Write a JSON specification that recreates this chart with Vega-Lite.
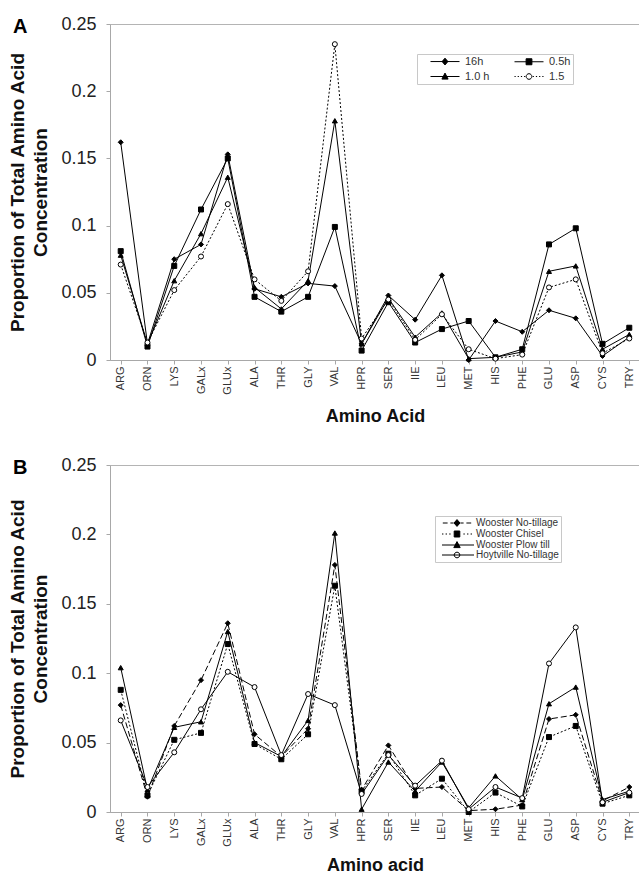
{
  "$schema": "https://vega.github.io/schema/vega-lite/v6.json",
  "padding": {"left": 8, "top": 14, "right": 0, "bottom": 0},
  "spacing": 29,
  "config": {
    "font": "Liberation Sans",
    "view": {"stroke": "#b4b4b4", "strokeWidth": 1},
    "axis": {"grid": false, "domainColor": "#a8a8a8", "tickColor": "#a8a8a8", "labelColor": "#222", "titleColor": "#111", "labelFont": "Liberation Sans", "titleFont": "Liberation Sans"},
    "legend": {"labelFont": "Liberation Sans"}
  },
  "datasets": {
    "A": [
      {"s":"16h","aa":"ARG","v":0.162},{"s":"16h","aa":"ORN","v":0.012},{"s":"16h","aa":"LYS","v":0.075},{"s":"16h","aa":"GALx","v":0.086},{"s":"16h","aa":"GLUx","v":0.153},{"s":"16h","aa":"ALA","v":0.053},{"s":"16h","aa":"THR","v":0.047},{"s":"16h","aa":"GLY","v":0.057},{"s":"16h","aa":"VAL","v":0.055},{"s":"16h","aa":"HPR","v":0.012},{"s":"16h","aa":"SER","v":0.048},{"s":"16h","aa":"IIE","v":0.030},{"s":"16h","aa":"LEU","v":0.063},{"s":"16h","aa":"MET","v":0.000},{"s":"16h","aa":"HIS","v":0.029},{"s":"16h","aa":"PHE","v":0.021},{"s":"16h","aa":"GLU","v":0.037},{"s":"16h","aa":"ASP","v":0.031},{"s":"16h","aa":"CYS","v":0.003},{"s":"16h","aa":"TRY","v":0.017},
      {"s":"0.5h","aa":"ARG","v":0.081},{"s":"0.5h","aa":"ORN","v":0.010},{"s":"0.5h","aa":"LYS","v":0.070},{"s":"0.5h","aa":"GALx","v":0.112},{"s":"0.5h","aa":"GLUx","v":0.150},{"s":"0.5h","aa":"ALA","v":0.047},{"s":"0.5h","aa":"THR","v":0.036},{"s":"0.5h","aa":"GLY","v":0.047},{"s":"0.5h","aa":"VAL","v":0.099},{"s":"0.5h","aa":"HPR","v":0.007},{"s":"0.5h","aa":"SER","v":0.043},{"s":"0.5h","aa":"IIE","v":0.013},{"s":"0.5h","aa":"LEU","v":0.023},{"s":"0.5h","aa":"MET","v":0.029},{"s":"0.5h","aa":"HIS","v":0.002},{"s":"0.5h","aa":"PHE","v":0.008},{"s":"0.5h","aa":"GLU","v":0.086},{"s":"0.5h","aa":"ASP","v":0.098},{"s":"0.5h","aa":"CYS","v":0.012},{"s":"0.5h","aa":"TRY","v":0.024},
      {"s":"1.0 h","aa":"ARG","v":0.078},{"s":"1.0 h","aa":"ORN","v":0.012},{"s":"1.0 h","aa":"LYS","v":0.059},{"s":"1.0 h","aa":"GALx","v":0.094},{"s":"1.0 h","aa":"GLUx","v":0.136},{"s":"1.0 h","aa":"ALA","v":0.054},{"s":"1.0 h","aa":"THR","v":0.038},{"s":"1.0 h","aa":"GLY","v":0.059},{"s":"1.0 h","aa":"VAL","v":0.178},{"s":"1.0 h","aa":"HPR","v":0.012},{"s":"1.0 h","aa":"SER","v":0.046},{"s":"1.0 h","aa":"IIE","v":0.017},{"s":"1.0 h","aa":"LEU","v":0.035},{"s":"1.0 h","aa":"MET","v":0.001},{"s":"1.0 h","aa":"HIS","v":0.002},{"s":"1.0 h","aa":"PHE","v":0.006},{"s":"1.0 h","aa":"GLU","v":0.066},{"s":"1.0 h","aa":"ASP","v":0.070},{"s":"1.0 h","aa":"CYS","v":0.008},{"s":"1.0 h","aa":"TRY","v":0.019},
      {"s":"1.5","aa":"ARG","v":0.071},{"s":"1.5","aa":"ORN","v":0.013},{"s":"1.5","aa":"LYS","v":0.052},{"s":"1.5","aa":"GALx","v":0.077},{"s":"1.5","aa":"GLUx","v":0.116},{"s":"1.5","aa":"ALA","v":0.060},{"s":"1.5","aa":"THR","v":0.044},{"s":"1.5","aa":"GLY","v":0.066},{"s":"1.5","aa":"VAL","v":0.235},{"s":"1.5","aa":"HPR","v":0.016},{"s":"1.5","aa":"SER","v":0.045},{"s":"1.5","aa":"IIE","v":0.015},{"s":"1.5","aa":"LEU","v":0.034},{"s":"1.5","aa":"MET","v":0.008},{"s":"1.5","aa":"HIS","v":0.001},{"s":"1.5","aa":"PHE","v":0.004},{"s":"1.5","aa":"GLU","v":0.054},{"s":"1.5","aa":"ASP","v":0.060},{"s":"1.5","aa":"CYS","v":0.005},{"s":"1.5","aa":"TRY","v":0.016}
    ],
    "B": [
      {"s":"Wooster No-tillage","aa":"ARG","v":0.077},{"s":"Wooster No-tillage","aa":"ORN","v":0.011},{"s":"Wooster No-tillage","aa":"LYS","v":0.062},{"s":"Wooster No-tillage","aa":"GALx","v":0.095},{"s":"Wooster No-tillage","aa":"GLUx","v":0.136},{"s":"Wooster No-tillage","aa":"ALA","v":0.056},{"s":"Wooster No-tillage","aa":"THR","v":0.040},{"s":"Wooster No-tillage","aa":"GLY","v":0.060},{"s":"Wooster No-tillage","aa":"VAL","v":0.178},{"s":"Wooster No-tillage","aa":"HPR","v":0.016},{"s":"Wooster No-tillage","aa":"SER","v":0.048},{"s":"Wooster No-tillage","aa":"IIE","v":0.017},{"s":"Wooster No-tillage","aa":"LEU","v":0.018},{"s":"Wooster No-tillage","aa":"MET","v":0.001},{"s":"Wooster No-tillage","aa":"HIS","v":0.002},{"s":"Wooster No-tillage","aa":"PHE","v":0.005},{"s":"Wooster No-tillage","aa":"GLU","v":0.067},{"s":"Wooster No-tillage","aa":"ASP","v":0.070},{"s":"Wooster No-tillage","aa":"CYS","v":0.008},{"s":"Wooster No-tillage","aa":"TRY","v":0.018},
      {"s":"Wooster Chisel","aa":"ARG","v":0.088},{"s":"Wooster Chisel","aa":"ORN","v":0.012},{"s":"Wooster Chisel","aa":"LYS","v":0.052},{"s":"Wooster Chisel","aa":"GALx","v":0.057},{"s":"Wooster Chisel","aa":"GLUx","v":0.121},{"s":"Wooster Chisel","aa":"ALA","v":0.049},{"s":"Wooster Chisel","aa":"THR","v":0.038},{"s":"Wooster Chisel","aa":"GLY","v":0.056},{"s":"Wooster Chisel","aa":"VAL","v":0.163},{"s":"Wooster Chisel","aa":"HPR","v":0.015},{"s":"Wooster Chisel","aa":"SER","v":0.042},{"s":"Wooster Chisel","aa":"IIE","v":0.012},{"s":"Wooster Chisel","aa":"LEU","v":0.024},{"s":"Wooster Chisel","aa":"MET","v":0.000},{"s":"Wooster Chisel","aa":"HIS","v":0.014},{"s":"Wooster Chisel","aa":"PHE","v":0.004},{"s":"Wooster Chisel","aa":"GLU","v":0.054},{"s":"Wooster Chisel","aa":"ASP","v":0.062},{"s":"Wooster Chisel","aa":"CYS","v":0.006},{"s":"Wooster Chisel","aa":"TRY","v":0.012},
      {"s":"Wooster Plow till","aa":"ARG","v":0.104},{"s":"Wooster Plow till","aa":"ORN","v":0.016},{"s":"Wooster Plow till","aa":"LYS","v":0.061},{"s":"Wooster Plow till","aa":"GALx","v":0.065},{"s":"Wooster Plow till","aa":"GLUx","v":0.130},{"s":"Wooster Plow till","aa":"ALA","v":0.050},{"s":"Wooster Plow till","aa":"THR","v":0.040},{"s":"Wooster Plow till","aa":"GLY","v":0.066},{"s":"Wooster Plow till","aa":"VAL","v":0.201},{"s":"Wooster Plow till","aa":"HPR","v":0.002},{"s":"Wooster Plow till","aa":"SER","v":0.036},{"s":"Wooster Plow till","aa":"IIE","v":0.015},{"s":"Wooster Plow till","aa":"LEU","v":0.036},{"s":"Wooster Plow till","aa":"MET","v":0.003},{"s":"Wooster Plow till","aa":"HIS","v":0.026},{"s":"Wooster Plow till","aa":"PHE","v":0.009},{"s":"Wooster Plow till","aa":"GLU","v":0.078},{"s":"Wooster Plow till","aa":"ASP","v":0.090},{"s":"Wooster Plow till","aa":"CYS","v":0.009},{"s":"Wooster Plow till","aa":"TRY","v":0.015},
      {"s":"Hoytville No-tillage","aa":"ARG","v":0.066},{"s":"Hoytville No-tillage","aa":"ORN","v":0.018},{"s":"Hoytville No-tillage","aa":"LYS","v":0.043},{"s":"Hoytville No-tillage","aa":"GALx","v":0.074},{"s":"Hoytville No-tillage","aa":"GLUx","v":0.101},{"s":"Hoytville No-tillage","aa":"ALA","v":0.090},{"s":"Hoytville No-tillage","aa":"THR","v":0.041},{"s":"Hoytville No-tillage","aa":"GLY","v":0.085},{"s":"Hoytville No-tillage","aa":"VAL","v":0.077},{"s":"Hoytville No-tillage","aa":"HPR","v":0.013},{"s":"Hoytville No-tillage","aa":"SER","v":0.041},{"s":"Hoytville No-tillage","aa":"IIE","v":0.019},{"s":"Hoytville No-tillage","aa":"LEU","v":0.037},{"s":"Hoytville No-tillage","aa":"MET","v":0.002},{"s":"Hoytville No-tillage","aa":"HIS","v":0.018},{"s":"Hoytville No-tillage","aa":"PHE","v":0.010},{"s":"Hoytville No-tillage","aa":"GLU","v":0.107},{"s":"Hoytville No-tillage","aa":"ASP","v":0.133},{"s":"Hoytville No-tillage","aa":"CYS","v":0.007},{"s":"Hoytville No-tillage","aa":"TRY","v":0.014}
    ]
  },
  "vconcat": [
    {
      "data": {"name": "A"},
      "width": 530,
      "height": 336,
      "title": {"text": "A", "anchor": "start", "frame": "group", "orient": "top", "fontSize": 20, "fontWeight": "bold", "font": "Liberation Sans", "color": "#000", "dx": -97, "baseline": "top", "offset": -22},
      "encoding": {
        "x": {"field": "aa", "type": "ordinal", "scale": {"type": "point", "padding": 0.4, "domain": ["ARG","ORN","LYS","GALx","GLUx","ALA","THR","GLY","VAL","HPR","SER","IIE","LEU","MET","HIS","PHE","GLU","ASP","CYS","TRY"]},
              "axis": {"title": "Amino Acid", "labelAngle": -90, "labelFontSize": 11, "labelPadding": 2, "tickSize": 4, "titleFontSize": 18, "titleFontWeight": "bold", "titlePadding": 13, "labelColor": "#333"}},
        "y": {"field": "v", "type": "quantitative", "scale": {"domain": [0, 0.25], "nice": false},
              "axis": {"title": ["Proportion of Total Amino Acid", "Concentration"], "values": [0, 0.05, 0.1, 0.15, 0.2, 0.25], "format": "~g", "labelFontSize": 18, "labelPadding": 10, "tickSize": 4, "titleFontSize": 19, "titleFontWeight": "bold", "titleLineHeight": 23, "titlePadding": 10}}
      },
      "layer": [
        {"transform": [{"filter": "datum.s == '16h'"}], "mark": {"type": "line", "color": "black", "strokeWidth": 1}, "encoding": {"order": {"value": null}}},
        {"transform": [{"filter": "datum.s == '0.5h'"}], "mark": {"type": "line", "color": "black", "strokeWidth": 1}, "encoding": {"order": {"value": null}}},
        {"transform": [{"filter": "datum.s == '1.0 h'"}], "mark": {"type": "line", "color": "black", "strokeWidth": 1}, "encoding": {"order": {"value": null}}},
        {"transform": [{"filter": "datum.s == '1.5'"}], "mark": {"type": "line", "color": "black", "strokeWidth": 1, "strokeDash": [2, 2]}, "encoding": {"order": {"value": null}}},
        {"mark": {"type": "point", "filled": true, "stroke": "black", "strokeWidth": 1, "size": 25, "opacity": 1},
         "encoding": {"shape": {"field": "s", "type": "nominal", "scale": {"domain": ["16h","0.5h","1.0 h","1.5"], "range": ["diamond","square","triangle-up","circle"]}, "legend": null},
                      "color": {"field": "s", "type": "nominal", "scale": {"domain": ["16h","0.5h","1.0 h","1.5"], "range": ["black","black","black","white"]}, "legend": null}}},
        {"transform": [{"filter": "false"}],
         "mark": {"type": "point", "filled": true, "stroke": "black", "strokeWidth": 1, "size": 64, "opacity": 1},
         "encoding": {
           "shape": {"field": "s", "type": "nominal", "scale": {"domain": ["16h","0.5h","1.0 h","1.5"], "range": [
              "M1.5,0H8.75M5.125,-0.85L5.85,0L5.125,0.85L4.4,0Z",
              "M1.5,0H8.75M4.4,-0.75H5.85V0.75H4.4Z",
              "M1.5,0H8.75M5.125,-0.85L5.9,0.65H4.35Z",
              "M1.5,0H1.8M2.3,0H2.6M3.1,0H3.4M3.9,0H4.2M6.05,0H6.35M6.85,0H7.15M7.65,0H7.95M8.45,0H8.75M4.425,0A0.7,0.7,0,1,0,5.825,0A0.7,0.7,0,1,0,4.425,0Z"]},
              "legend": {"orient": "none", "legendX": 307, "legendY": 30, "title": null, "columns": 2, "direction": "horizontal", "columnPadding": 13, "rowPadding": 3, "padding": 2, "labelFontSize": 11, "labelOffset": 35, "labelColor": "#333", "symbolSize": 64, "symbolStrokeWidth": 1, "symbolStrokeColor": "black", "strokeColor": "#c8c8c8", "fillColor": "white"}},
           "color": {"field": "s", "type": "nominal", "scale": {"domain": ["16h","0.5h","1.0 h","1.5"], "range": ["black","black","black","white"]},
              "legend": {"orient": "none", "legendX": 307, "legendY": 30, "title": null, "columns": 2, "direction": "horizontal", "columnPadding": 13, "rowPadding": 3, "padding": 2, "labelFontSize": 11, "labelOffset": 35, "labelColor": "#333", "symbolSize": 64, "symbolStrokeWidth": 1, "symbolStrokeColor": "black", "strokeColor": "#c8c8c8", "fillColor": "white"}}
         }}
      ],
      "resolve": {"scale": {"shape": "independent", "color": "independent"}}
    },
    {
      "data": {"name": "B"},
      "width": 530,
      "height": 347,
      "title": {"text": "B", "anchor": "start", "frame": "group", "orient": "top", "fontSize": 20, "fontWeight": "bold", "font": "Liberation Sans", "color": "#000", "dx": -97, "baseline": "top", "offset": -22},
      "encoding": {
        "x": {"field": "aa", "type": "ordinal", "scale": {"type": "point", "padding": 0.4, "domain": ["ARG","ORN","LYS","GALx","GLUx","ALA","THR","GLY","VAL","HPR","SER","IIE","LEU","MET","HIS","PHE","GLU","ASP","CYS","TRY"]},
              "axis": {"title": "Amino acid", "labelAngle": -90, "labelFontSize": 11, "labelPadding": 2, "tickSize": 4, "titleFontSize": 18, "titleFontWeight": "bold", "titlePadding": 10, "labelColor": "#333"}},
        "y": {"field": "v", "type": "quantitative", "scale": {"domain": [0, 0.25], "nice": false},
              "axis": {"title": ["Proportion of Total Amino Acid", "Concentration"], "values": [0, 0.05, 0.1, 0.15, 0.2, 0.25], "format": "~g", "labelFontSize": 18, "labelPadding": 10, "tickSize": 4, "titleFontSize": 19, "titleFontWeight": "bold", "titleLineHeight": 23, "titlePadding": 10}}
      },
      "layer": [
        {"transform": [{"filter": "datum.s == 'Wooster No-tillage'"}], "mark": {"type": "line", "color": "black", "strokeWidth": 1, "strokeDash": [6, 3]}, "encoding": {"order": {"value": null}}},
        {"transform": [{"filter": "datum.s == 'Wooster Chisel'"}], "mark": {"type": "line", "color": "black", "strokeWidth": 1, "strokeDash": [2, 2]}, "encoding": {"order": {"value": null}}},
        {"transform": [{"filter": "datum.s == 'Wooster Plow till'"}], "mark": {"type": "line", "color": "black", "strokeWidth": 1}, "encoding": {"order": {"value": null}}},
        {"transform": [{"filter": "datum.s == 'Hoytville No-tillage'"}], "mark": {"type": "line", "color": "black", "strokeWidth": 1}, "encoding": {"order": {"value": null}}},
        {"mark": {"type": "point", "filled": true, "stroke": "black", "strokeWidth": 1, "size": 25, "opacity": 1},
         "encoding": {"shape": {"field": "s", "type": "nominal", "scale": {"domain": ["Wooster No-tillage","Wooster Chisel","Wooster Plow till","Hoytville No-tillage"], "range": ["diamond","square","triangle-up","circle"]}, "legend": null},
                      "color": {"field": "s", "type": "nominal", "scale": {"domain": ["Wooster No-tillage","Wooster Chisel","Wooster Plow till","Hoytville No-tillage"], "range": ["black","black","black","white"]}, "legend": null}}},
        {"transform": [{"filter": "false"}],
         "mark": {"type": "point", "filled": true, "stroke": "black", "strokeWidth": 1, "size": 64, "opacity": 1},
         "encoding": {
           "shape": {"field": "s", "type": "nominal", "scale": {"domain": ["Wooster No-tillage","Wooster Chisel","Wooster Plow till","Hoytville No-tillage"], "range": [
              "M0.2,0H1.4M2.1,0H2.9M4.6,0H5.4M6.1,0H7.3M3.75,-0.85L4.5,0L3.75,0.85L3,0Z",
              "M0,0H0.35M0.9,0H1.25M1.8,0H2.15M5.35,0H5.7M6.25,0H6.6M7.15,0H7.5M3.05,-0.75H4.45V0.75H3.05Z",
              "M0,0H8M3.75,-0.85L4.55,0.65H2.95Z",
              "M0,0H8M3.05,0A0.7,0.7,0,1,0,4.45,0A0.7,0.7,0,1,0,3.05,0Z"]},
              "legend": {"orient": "none", "legendX": 325, "legendY": 51, "title": null, "direction": "vertical", "rowPadding": 0, "padding": 2, "labelFontSize": 10, "labelOffset": 29, "labelColor": "#333", "symbolSize": 64, "symbolStrokeWidth": 1, "symbolStrokeColor": "black", "strokeColor": "#c8c8c8", "fillColor": "white"}},
           "color": {"field": "s", "type": "nominal", "scale": {"domain": ["Wooster No-tillage","Wooster Chisel","Wooster Plow till","Hoytville No-tillage"], "range": ["black","black","black","white"]},
              "legend": {"orient": "none", "legendX": 325, "legendY": 51, "title": null, "direction": "vertical", "rowPadding": 0, "padding": 2, "labelFontSize": 10, "labelOffset": 29, "labelColor": "#333", "symbolSize": 64, "symbolStrokeWidth": 1, "symbolStrokeColor": "black", "strokeColor": "#c8c8c8", "fillColor": "white"}}
         }}
      ],
      "resolve": {"scale": {"shape": "independent", "color": "independent"}}
    }
  ]
}
